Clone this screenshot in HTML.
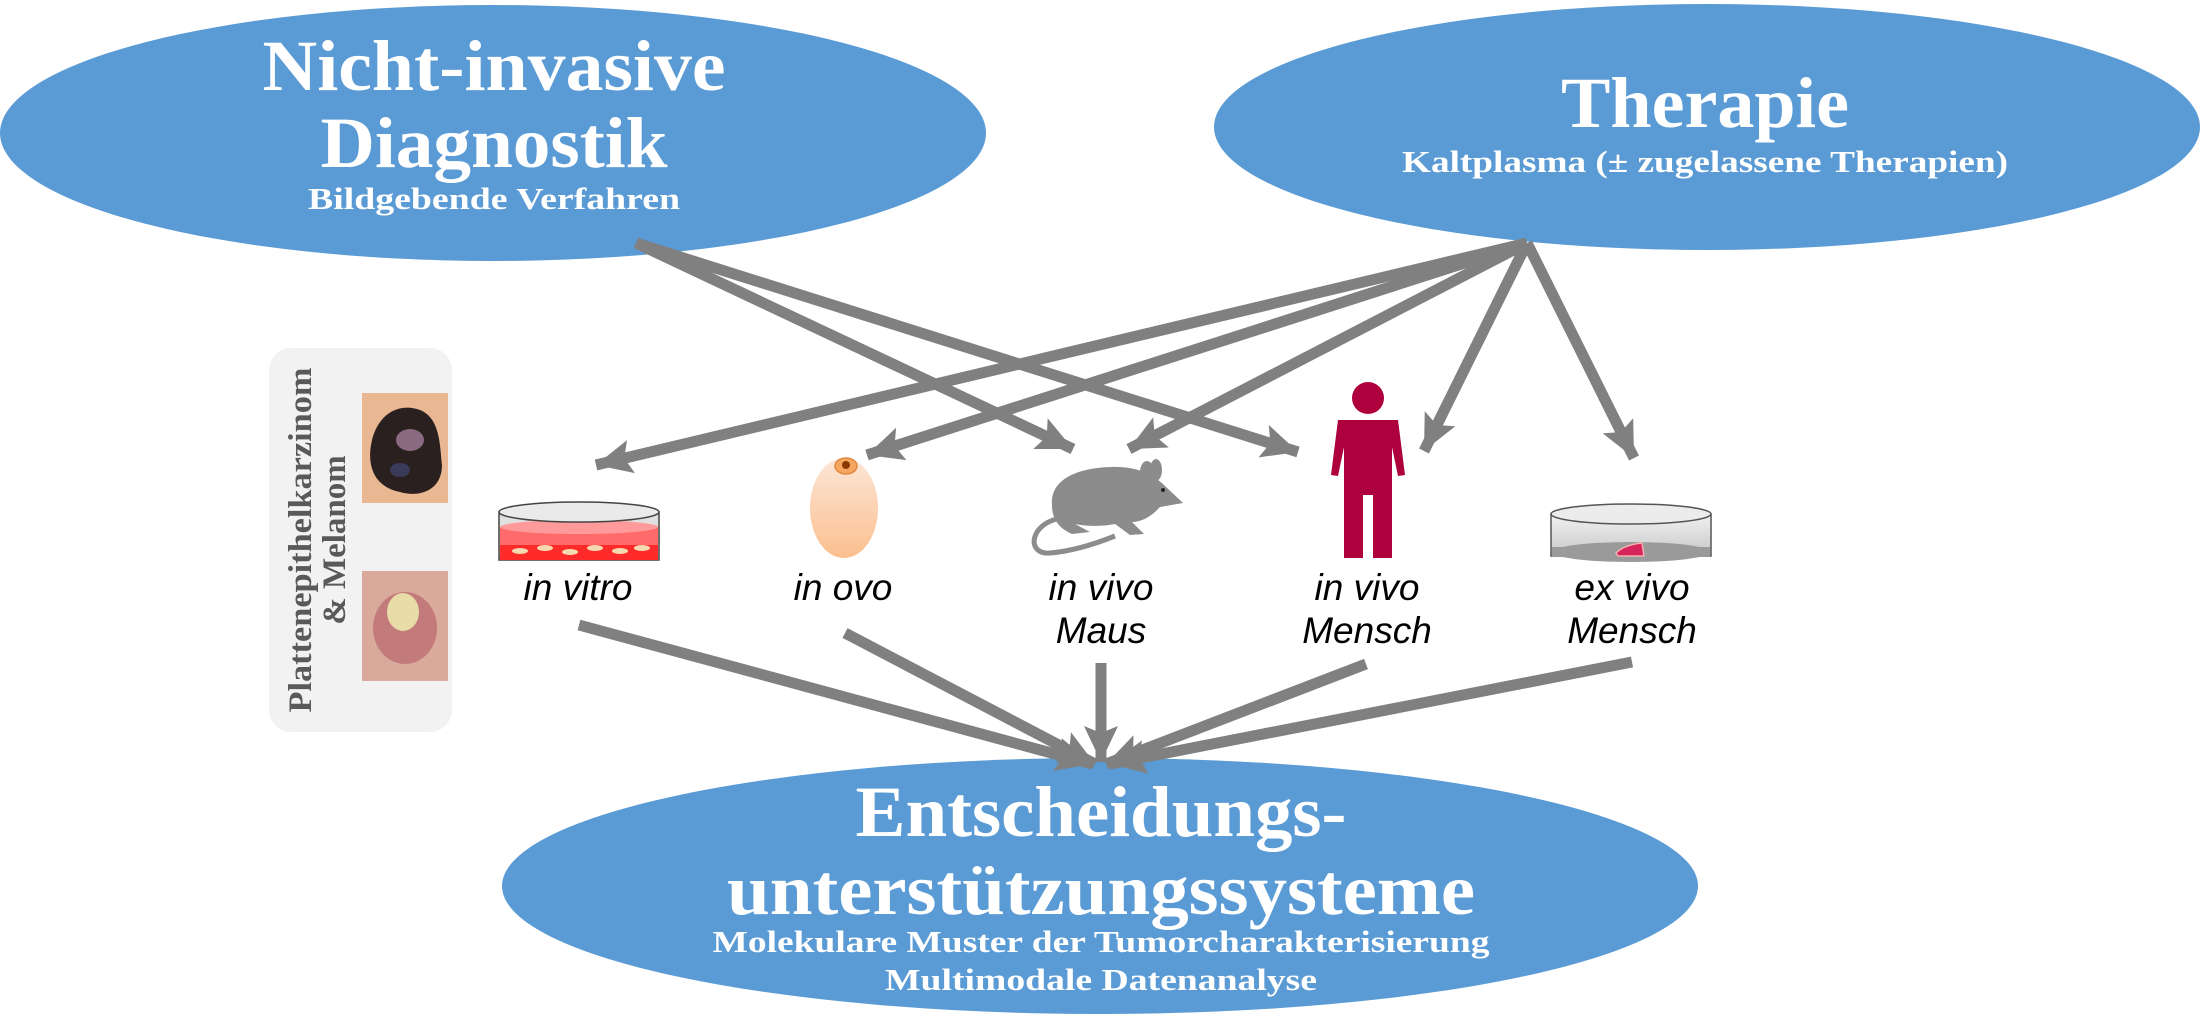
<!DOCTYPE html>
<html><head><meta charset="utf-8"><style>
html,body{margin:0;padding:0;background:#fff;}
svg{display:block;}
.serif{font-family:"Liberation Serif",serif;font-weight:bold;fill:#fff;text-anchor:middle;}
.lab{font-family:"Liberation Sans",sans-serif;font-style:italic;font-size:37px;fill:#000;text-anchor:middle;}
</style></head><body>
<svg width="2200" height="1017" viewBox="0 0 2200 1017" xmlns="http://www.w3.org/2000/svg">
<defs>
<marker id="ah" markerUnits="userSpaceOnUse" markerWidth="40" markerHeight="40" refX="36" refY="17" orient="auto">
<path d="M0,0 L36,17 L0,34 L7,17 Z" fill="#808080"/>
</marker>
<linearGradient id="egg" x1="0" y1="0" x2="0" y2="1"><stop offset="0" stop-color="#fde6d6"/><stop offset="1" stop-color="#fbbf8e"/></linearGradient>
<linearGradient id="dish" x1="0" y1="0" x2="0" y2="1"><stop offset="0" stop-color="#f2f2f2"/><stop offset="1" stop-color="#c8c8c8"/></linearGradient>
</defs>

<!-- ellipses -->
<ellipse cx="493" cy="133" rx="493" ry="128" fill="#5b9bd5"/>
<ellipse cx="1707" cy="127" rx="493" ry="123" fill="#5b9bd5"/>
<ellipse cx="1100" cy="886" rx="598" ry="128" fill="#5b9bd5"/>

<text x="494" y="90" class="serif" font-size="72" textLength="463" lengthAdjust="spacingAndGlyphs">Nicht-invasive</text>
<text x="494" y="167" class="serif" font-size="72" textLength="347" lengthAdjust="spacingAndGlyphs">Diagnostik</text>
<text x="494" y="209" class="serif" font-size="31" textLength="372" lengthAdjust="spacingAndGlyphs">Bildgebende Verfahren</text>
<text x="1705" y="127" class="serif" font-size="72" textLength="288" lengthAdjust="spacingAndGlyphs">Therapie</text>
<text x="1705" y="172" class="serif" font-size="31" textLength="606" lengthAdjust="spacingAndGlyphs">Kaltplasma (± zugelassene Therapien)</text>
<text x="1101" y="836" class="serif" font-size="72" textLength="491" lengthAdjust="spacingAndGlyphs">Entscheidungs-</text>
<text x="1101" y="914" class="serif" font-size="72" textLength="748" lengthAdjust="spacingAndGlyphs">unterstützungssysteme</text>
<text x="1101" y="952" class="serif" font-size="31" textLength="777" lengthAdjust="spacingAndGlyphs">Molekulare Muster der Tumorcharakterisierung</text>
<text x="1101" y="990" class="serif" font-size="31" textLength="432" lengthAdjust="spacingAndGlyphs">Multimodale Datenanalyse</text>

<!-- arrows -->
<g stroke="#808080" stroke-width="11" fill="none" marker-end="url(#ah)">
<line x1="636" y1="243" x2="1073" y2="449"/>
<line x1="636" y1="243" x2="1298" y2="452"/>
<line x1="1527" y1="243" x2="596" y2="465"/>
<line x1="1527" y1="243" x2="867" y2="455"/>
<line x1="1527" y1="243" x2="1129" y2="449"/>
<line x1="1527" y1="243" x2="1424" y2="451"/>
<line x1="1527" y1="243" x2="1634" y2="458"/>
<line x1="579" y1="625" x2="1092" y2="764"/>
<line x1="845" y1="633" x2="1095" y2="764"/>
<line x1="1101" y1="663" x2="1101" y2="762"/>
<line x1="1366" y1="664" x2="1106" y2="764"/>
<line x1="1632" y1="662" x2="1110" y2="764"/>
</g>

<!-- left panel -->
<rect x="269" y="348" width="183" height="384" rx="22" fill="#f2f2f2"/>
<text transform="translate(311,540) rotate(-90)" font-family="Liberation Serif,serif" font-weight="bold" font-size="33" fill="#595959" text-anchor="middle" textLength="345" lengthAdjust="spacingAndGlyphs">Plattenepithelkarzinom</text>
<text transform="translate(345,540) rotate(-90)" font-family="Liberation Serif,serif" font-weight="bold" font-size="33" fill="#595959" text-anchor="middle">&amp; Melanom</text>
<rect x="362" y="393" width="86" height="110" fill="#e9b892"/>
<path d="M372,440 C378,415 398,402 420,410 C440,418 440,445 442,465 C442,490 420,498 400,492 C378,488 365,470 372,440 Z" fill="#2b2020"/>
<ellipse cx="410" cy="440" rx="14" ry="11" fill="#8a6a80"/>
<ellipse cx="400" cy="470" rx="10" ry="7" fill="#3a3a5a"/>
<rect x="362" y="571" width="86" height="110" fill="#d9a99b"/>
<ellipse cx="405" cy="628" rx="32" ry="36" fill="#c27a7a"/>
<ellipse cx="403" cy="612" rx="16" ry="19" fill="#e8dca8"/>

<!-- in vitro dish -->
<rect x="499" y="512" width="160" height="48" fill="#e0e0e0" stroke="#444" stroke-width="1.5"/>
<rect x="500" y="527" width="158" height="33" fill="#ff6b6b"/>
<rect x="500" y="545" width="158" height="15" fill="#ff2a2a"/>
<ellipse cx="579" cy="527" rx="79" ry="7" fill="#ff9a9a"/>
<ellipse cx="579" cy="512" rx="80" ry="10" fill="#eaeaea" stroke="#444" stroke-width="1.5"/>
<g fill="#f5d9b0"><ellipse cx="520" cy="551" rx="8" ry="3"/><ellipse cx="545" cy="548" rx="8" ry="3"/><ellipse cx="570" cy="552" rx="8" ry="3"/><ellipse cx="595" cy="548" rx="8" ry="3"/><ellipse cx="620" cy="551" rx="8" ry="3"/><ellipse cx="642" cy="548" rx="8" ry="3"/></g>

<!-- egg -->
<ellipse cx="844" cy="508" rx="34" ry="50" fill="url(#egg)"/>
<ellipse cx="846" cy="466" rx="11" ry="8" fill="#f5a760" stroke="#e08a40" stroke-width="1.5"/>
<circle cx="846" cy="465" r="4" fill="#8a3a00"/>

<!-- mouse -->
<g fill="#8c8c8c">
<path d="M1052,505 C1050,478 1080,468 1110,467 C1140,466 1155,476 1165,486 L1183,503 L1160,507 C1152,516 1142,522 1132,522 L1144,534 L1130,535 L1115,524 C1100,527 1085,526 1075,524 L1090,532 L1072,534 C1058,528 1052,518 1052,505 Z"/>
<ellipse cx="1147" cy="472" rx="7" ry="11"/>
<ellipse cx="1156" cy="470" rx="6" ry="11"/>
</g>
<path d="M1062,518 C1030,522 1025,555 1050,553 C1075,551 1100,542 1115,536" stroke="#8c8c8c" stroke-width="5" fill="none"/>
<circle cx="1163" cy="490" r="2" fill="#222"/>

<!-- human -->
<g fill="#ad003d">
<circle cx="1368" cy="398" r="16"/>
<path d="M1338,420 L1398,420 L1405,475 L1398,476 L1392,447 L1392,558 L1373,558 L1373,495 L1363,495 L1363,558 L1344,558 L1344,447 L1338,476 L1331,475 Z"/>
</g>

<!-- ex vivo dish -->
<rect x="1551" y="514" width="160" height="42" fill="url(#dish)" stroke="#555" stroke-width="1.5"/>
<ellipse cx="1631" cy="552" rx="79" ry="10" fill="#9a9a9a"/>
<rect x="1552" y="547" width="158" height="10" fill="#9a9a9a"/>
<ellipse cx="1631" cy="514" rx="80" ry="10" fill="#ececec" stroke="#555" stroke-width="1.5"/>
<path d="M1616,553 C1622,547 1632,544 1642,543 L1644,556 L1618,556 Z" fill="#d6245a" stroke="#f3b0b0" stroke-width="1.5"/>

<!-- labels -->
<text x="578" y="600" class="lab">in vitro</text>
<text x="843" y="600" class="lab">in ovo</text>
<text x="1101" y="600" class="lab">in vivo</text>
<text x="1101" y="643" class="lab">Maus</text>
<text x="1367" y="600" class="lab">in vivo</text>
<text x="1367" y="643" class="lab">Mensch</text>
<text x="1632" y="600" class="lab">ex vivo</text>
<text x="1632" y="643" class="lab">Mensch</text>
</svg>
</body></html>
